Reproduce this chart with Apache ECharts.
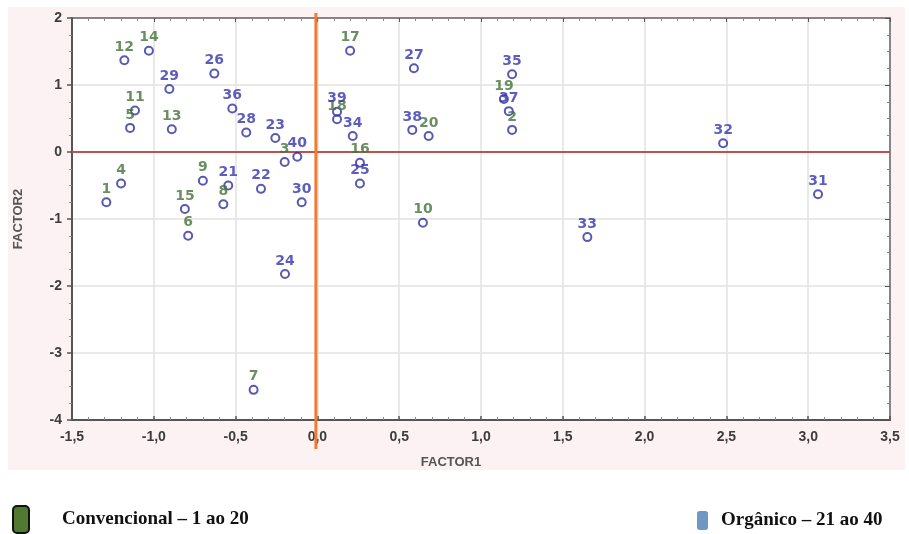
<!DOCTYPE html>
<html>
<head>
<meta charset="utf-8">
<script src="https://cdn.jsdelivr.net/npm/echarts@6/dist/echarts.min.js"></script>
<style>
html,body{margin:0;padding:0;background:#fff;}
#chart{width:909px;height:534px;}
</style>
</head>
<body>
<div id="chart"></div>
<script>
// Convencional (1 ao 20)
const convLabels = ['1','2','3','4','5','6','7','8','9','10','11','12','13','14','15','16','17','18','19','20'];
const convX = [-1.29, 1.19, -0.20, -1.20, -1.145, -0.79, -0.39, -0.575, -0.70, 0.645, -1.115, -1.18, -0.89, -1.03, -0.81, 0.26, 0.20, 0.12, 1.14, 0.68];
const convY = [-0.75, 0.33, -0.15, -0.47, 0.36, -1.25, -3.55, -0.78, -0.43, -1.055, 0.62, 1.37, 0.34, 1.51, -0.85, -0.16, 1.51, 0.49, 0.79, 0.24];
// Orgânico (21 ao 40)
const orgLabels = ['21','22','23','24','25','26','27','28','29','30','31','32','33','34','35','36','37','38','39','40'];
const orgX = [-0.545, -0.345, -0.257, -0.198, 0.26, -0.63, 0.59, -0.435, -0.905, -0.096, 3.06, 2.48, 1.65, 0.216, 1.19, -0.52, 1.17, 0.58, 0.12, -0.123];
const orgY = [-0.50, -0.55, 0.21, -1.82, -0.47, 1.17, 1.25, 0.29, 0.94, -0.75, -0.63, 0.13, -1.27, 0.24, 1.16, 0.65, 0.61, 0.33, 0.60, -0.07];

const xTicks = {min: -1.5, max: 3.5, interval: 0.5};
const yTicks = {min: -4, max: 2, interval: 1};
const xName = 'FACTOR1';
const yName = 'FACTOR2';
const convName = 'Convencional – 1 ao 20';
const orgName = 'Orgânico – 21 ao 40';

const chart = echarts.init(document.getElementById('chart'));

function mk(xs, ys, labels){ return xs.map((x,i)=>({value:[x, ys[i]], name: labels[i]})); }

const markerStyle = {color:'rgba(255,255,255,0)', borderColor:'#3030a0', borderWidth:2};
const labelBase = {show:true, position:'top', distance:1, fontFamily:'DejaVu Sans', fontWeight:'bold', fontSize:14, formatter: p => p.name};
const fmt = v => v.toFixed(1).replace('.', ',');

const axisLabelStyle = {color:'#3c3c3c', fontFamily:'Liberation Sans', fontWeight:'bold', fontSize:14};

const option = {
  animation:false,
  backgroundColor:'#fff',
  grid:{left:72, top:18, right:19, bottom:114, show:true, backgroundColor:'#fff', borderWidth:0},
  xAxis:[{
    type:'value', min:xTicks.min, max:xTicks.max, interval:xTicks.interval,
    name:xName, nameLocation:'middle', nameGap:36,
    nameTextStyle:{color:'#555', fontFamily:'Liberation Sans', fontWeight:'bold', fontSize:13, padding:[0,60,0,0]},
    axisLine:{show:true, onZero:false, lineStyle:{color:'#555', width:2}},
    axisTick:{show:true, inside:true, length:4, lineStyle:{color:'#555', width:1.5}},
    minorTick:{show:true, splitNumber:5, length:3, lineStyle:{color:'#888'}},
    axisLabel:Object.assign({margin:10, formatter:fmt}, axisLabelStyle),
    splitLine:{show:true, lineStyle:{color:'#e2e2e2', width:1.5}}
  },{
    type:'value', position:'top', min:xTicks.min, max:xTicks.max, interval:xTicks.interval,
    axisLine:{show:true, onZero:false, lineStyle:{color:'#666', width:1.5}},
    axisTick:{show:true, inside:true, length:4, lineStyle:{color:'#555'}},
    minorTick:{show:true, splitNumber:5, length:3, lineStyle:{color:'#888'}},
    axisLabel:{show:false}, splitLine:{show:false}
  }],
  yAxis:[{
    type:'value', min:yTicks.min, max:yTicks.max, interval:yTicks.interval,
    name:yName, nameLocation:'middle', nameGap:47, nameRotate:90,
    nameTextStyle:{color:'#555', fontFamily:'Liberation Sans', fontWeight:'bold', fontSize:13},
    axisLine:{show:true, onZero:false, lineStyle:{color:'#555', width:2}},
    axisTick:{show:true, inside:false, length:5, lineStyle:{color:'#555', width:1.5}},
    minorTick:{show:true, splitNumber:4, length:3, lineStyle:{color:'#888'}},
    axisLabel:Object.assign({margin:10}, axisLabelStyle),
    splitLine:{show:true, lineStyle:{color:'#e2e2e2', width:1.5}}
  },{
    type:'value', position:'right', min:yTicks.min, max:yTicks.max, interval:yTicks.interval,
    axisLine:{show:true, onZero:false, lineStyle:{color:'#666', width:1.5}},
    axisTick:{show:true, inside:true, length:5, lineStyle:{color:'#555'}},
    minorTick:{show:true, splitNumber:4, length:3, lineStyle:{color:'#888'}},
    axisLabel:{show:false}, splitLine:{show:false}
  }],
  legend:[{
    left:7, top:500, itemWidth:16, itemHeight:27, selectedMode:false,
    data:[{name:convName, icon:'roundRect', itemStyle:{color:'#4f7a30', borderColor:'#111', borderWidth:2, opacity:1}}],
    textStyle:{fontFamily:'Liberation Serif', fontWeight:'bold', fontSize:19, color:'#111', padding:[0,0,0,28]}
  },{
    left:692, top:506, itemWidth:11, itemHeight:19, selectedMode:false,
    data:[{name:orgName, icon:'roundRect', itemStyle:{color:'#6f97c4', borderWidth:0, opacity:1}}],
    textStyle:{fontFamily:'Liberation Serif', fontWeight:'bold', fontSize:19, color:'#111', padding:[0,0,0,8]}
  }],
  series:[{
    name:convName, type:'scatter', symbol:'circle', symbolSize:8,
    data:mk(convX, convY, convLabels),
    itemStyle:markerStyle,
    label:Object.assign({color:'#44723a'}, labelBase),
    emphasis:{disabled:true}, z:5,
    markLine:{silent:true, symbol:'none', label:{show:false}, animation:false,
      lineStyle:{color:'#c0504d', width:2, type:'solid'}, data:[{yAxis:0}]}
  },{
    name:orgName, type:'scatter', symbol:'circle', symbolSize:8,
    data:mk(orgX, orgY, orgLabels),
    itemStyle:markerStyle,
    label:Object.assign({color:'#3434b0'}, labelBase),
    emphasis:{disabled:true}, z:5
  }]
};
chart.setOption(option);

const x0 = chart.convertToPixel({xAxisIndex:0}, 0);
chart.setOption({
  graphic:[
    {id:'bgpanel', type:'rect', z:-100, silent:true, shape:{x:8, y:7, width:897, height:463}, style:{fill:'#fcf1f3'}},
    {id:'vline', type:'line', z:100, silent:true, shape:{x1:x0-1.5, y1:13, x2:x0-1.5, y2:449}, style:{stroke:'#ed7d31', lineWidth:3}}
  ]
});
</script>
</body>
</html>
